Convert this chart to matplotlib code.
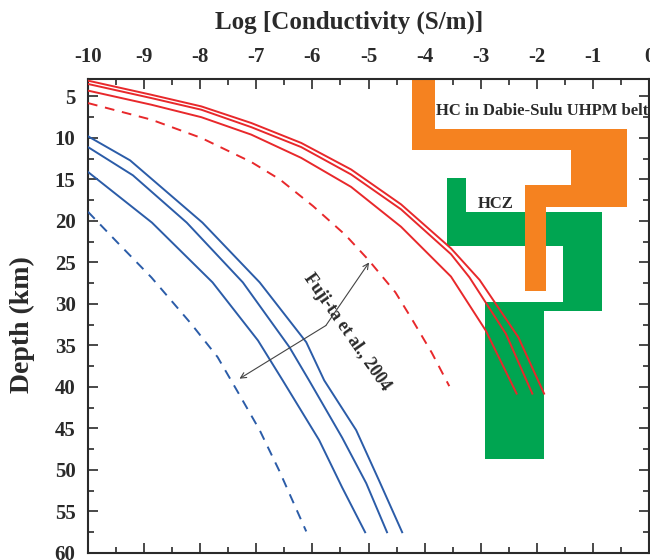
import matplotlib
matplotlib.use("Agg")
import matplotlib.pyplot as plt
from matplotlib.patches import Polygon
from matplotlib.ticker import MultipleLocator

# red curves (shallow conductivity profiles): log10 sigma vs depth km
red_top_x = [-10, -8.87, -7.98, -7.09, -6.20, -5.31, -4.42, -3.53, -3.02, -2.33, -1.87]
red_top_d = [3.1, 4.8, 6.2, 8.2, 10.6, 13.8, 18.0, 23.3, 27.1, 34.0, 40.8]
red_mid_x = [-10, -8.87, -7.98, -7.09, -6.20, -5.31, -4.42, -3.53, -3.20, -2.55, -2.08]
red_mid_d = [3.5, 5.2, 6.6, 8.7, 11.1, 14.4, 18.6, 24.0, 26.8, 33.6, 40.8]
red_bot_x = [-10, -8.87, -7.98, -7.09, -6.20, -5.31, -4.42, -3.53, -2.91, -2.36]
red_bot_d = [4.3, 6.0, 7.5, 9.6, 12.4, 15.9, 20.7, 26.7, 33.2, 40.8]
red_dash_x = [-10, -8.87, -7.98, -7.09, -6.58, -5.99, -5.41, -5.00, -4.52, -4.22, -3.87, -3.56]
red_dash_d = [5.8, 7.8, 10.0, 12.9, 15.0, 18.2, 21.7, 24.7, 28.6, 31.9, 35.9, 39.9]

# blue curves
blue_top_x = [-10, -9.25, -7.96, -6.94, -6.11, -5.79, -5.22, -4.81, -4.40]
blue_top_d = [9.8, 12.7, 20.2, 27.4, 34.6, 39.2, 45.2, 51.3, 57.5]
blue_mid_x = [-10, -9.20, -8.24, -7.24, -6.41, -6.06, -5.47, -5.04, -4.67]
blue_mid_d = [11.1, 14.5, 20.2, 27.4, 35.2, 39.2, 46.1, 51.6, 57.5]
blue_bot_x = [-10, -8.86, -7.78, -6.97, -6.53, -5.88, -5.47, -5.06]
blue_bot_d = [14.1, 20.2, 27.4, 34.4, 39.2, 46.4, 52.1, 57.5]
blue_dash_x = [-10, -9.46, -8.87, -8.16, -7.69, -7.33, -6.94, -6.59, -6.11]
blue_dash_d = [18.9, 22.7, 26.8, 32.4, 36.4, 40.6, 45.2, 50.1, 57.4]

# high-conductivity zones (outlines)
hc_x = [-4.22, -3.81, -3.81, -0.40, -0.40, -1.84, -1.84, -2.21, -2.21, -1.39, -1.39, -4.22]
hc_d = [2.0, 2.0, 8.9, 8.9, 18.3, 18.3, 28.4, 28.4, 15.7, 15.7, 11.4, 11.4]
hcz_x = [-3.60, -3.26, -3.26, -0.83, -0.83, -1.87, -1.87, -2.92, -2.92, -1.53, -1.53, -3.60]
hcz_d = [14.8, 14.8, 18.9, 18.9, 30.9, 30.9, 48.7, 48.7, 29.8, 29.8, 23.0, 23.0]

RED = "#e8282b"
BLUE = "#2b5ca8"
ORANGE = "#f58220"
GREEN = "#00a551"
INK = "#2a2a2a"

plt.rcParams["font.family"] = ["Liberation Serif", "DejaVu Serif"]
plt.rcParams["font.weight"] = "bold"

fig = plt.figure(figsize=(6.5, 5.6), dpi=100)
ax = fig.add_axes([88 / 650, 7 / 560, 561 / 650, 474 / 560])

ax.add_patch(Polygon(list(zip(hcz_x, hcz_d)), closed=True, fc=GREEN, ec="none", zorder=1))
ax.add_patch(Polygon(list(zip(hc_x, hc_d)), closed=True, fc=ORANGE, ec="none", zorder=2))

lw = 1.4
dash = (0, (5, 4))
for xs, ds in [(red_top_x, red_top_d), (red_mid_x, red_mid_d), (red_bot_x, red_bot_d)]:
    ax.plot(xs, ds, color=RED, lw=lw, zorder=3)
ax.plot(red_dash_x, red_dash_d, color=RED, lw=lw, ls=dash, zorder=3)
for xs, ds in [(blue_top_x, blue_top_d), (blue_mid_x, blue_mid_d), (blue_bot_x, blue_bot_d)]:
    ax.plot(xs, ds, color=BLUE, lw=lw, zorder=3)
ax.plot(blue_dash_x, blue_dash_d, color=BLUE, lw=lw, ls=dash, zorder=3)

ax.text(-3.80, 6.7, "HC in Dabie-Sulu UHPM belt", fontsize=12, fontweight="bold",
        color=INK, va="center", ha="left", zorder=5)
ax.text(-2.73, 17.9, "HCZ", fontsize=12, fontweight="bold", color=INK,
        va="center", ha="center", zorder=5)
ax.text(-5.39, 33.4, "Fuji-ta et al., 2004", fontsize=13, fontweight="bold",
        color=INK, rotation=-55, rotation_mode="anchor", va="center", ha="center", zorder=5)
for tip in [(-4.99, 25.0), (-7.30, 39.0)]:
    ax.annotate("", xy=tip, xytext=(-5.76, 32.6),
                arrowprops=dict(arrowstyle="->", color="#444444", lw=0.8,
                                shrinkA=0, shrinkB=0), zorder=5)

ax.set_xlim(-10, 0)
ax.set_ylim(60, 2.9)
ax.xaxis.set_major_locator(MultipleLocator(1))
ax.xaxis.set_minor_locator(MultipleLocator(0.5))
ax.yaxis.set_major_locator(MultipleLocator(5))
ax.yaxis.set_minor_locator(MultipleLocator(2.5))
ax.set_yticks(range(5, 61, 5))
ax.tick_params(which="both", direction="in", top=True, bottom=True, left=True, right=True,
               labeltop=True, labelbottom=False, labelleft=True, labelright=False,
               color=INK, width=1.2)
ax.tick_params(which="major", length=7, labelsize=15, pad=9, labelcolor=INK)
ax.tick_params(which="minor", length=4)
ax.set_xticklabels([f"{v:g}" for v in ax.get_xticks()])
for lab in ax.get_xticklabels() + ax.get_yticklabels():
    lab.set_fontweight("bold")
for sp in ax.spines.values():
    sp.set_linewidth(1.5)
    sp.set_color(INK)

fig.text(349 / 650, 1 - 22 / 560, "Log [Conductivity (S/m)]", fontsize=18,
         fontweight="bold", ha="center", va="center", color=INK)
fig.text(22 / 650, 1 - 325 / 560, "Depth (km)", fontsize=20, fontweight="bold",
         rotation=90, ha="center", va="center", color=INK)

fig.savefig("out.png", dpi=100)
